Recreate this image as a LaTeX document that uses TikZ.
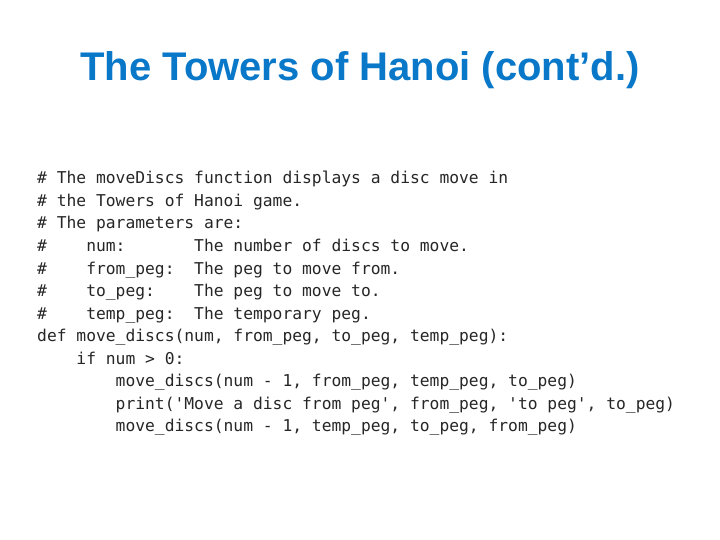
\documentclass[tikz,border=0pt]{standalone}
\usepackage{fontspec}
\setmainfont{Liberation Sans}
\newfontfamily\codefont{DejaVu Sans Mono}
\definecolor{titleblue}{HTML}{0A78C8}
\begin{document}
\begin{tikzpicture}[x=1pt,y=-1pt,
  codeline/.style={anchor=base west,inner sep=0pt,font=\codefont\fontsize{16.3}{20}\selectfont,text=black!85}]
\useasboundingbox (0,0) rectangle (720,540);
\node[font=\bfseries\fontsize{40}{46}\selectfont,text=titleblue] (title) at (360,70) {The Towers of Hanoi (cont’d.)};
\foreach \t [count=\i from 0] in {
{\# The moveDiscs function displays a disc move in},
{\# the Towers of Hanoi game.},
{\# The parameters are:},
{\#\ \ \ \ num:\ \ \ \ \ \ \ The number of discs to move.},
{\#\ \ \ \ from\_peg:\ \ The peg to move from.},
{\#\ \ \ \ to\_peg:\ \ \ \ The peg to move to.},
{\#\ \ \ \ temp\_peg:\ \ The temporary peg.},
{def move\_discs(num, from\_peg, to\_peg, temp\_peg):},
{\ \ \ \ if num > 0:},
{\ \ \ \ \ \ \ \ move\_discs(num - 1, from\_peg, temp\_peg, to\_peg)},
{\ \ \ \ \ \ \ \ print('Move a disc from peg', from\_peg, 'to peg', to\_peg)},
{\ \ \ \ \ \ \ \ move\_discs(num - 1, temp\_peg, to\_peg, from\_peg)}}
  \node[codeline] (l\i) at (37,{184+22.5*\i}) {\t};
\end{tikzpicture}
\end{document}
